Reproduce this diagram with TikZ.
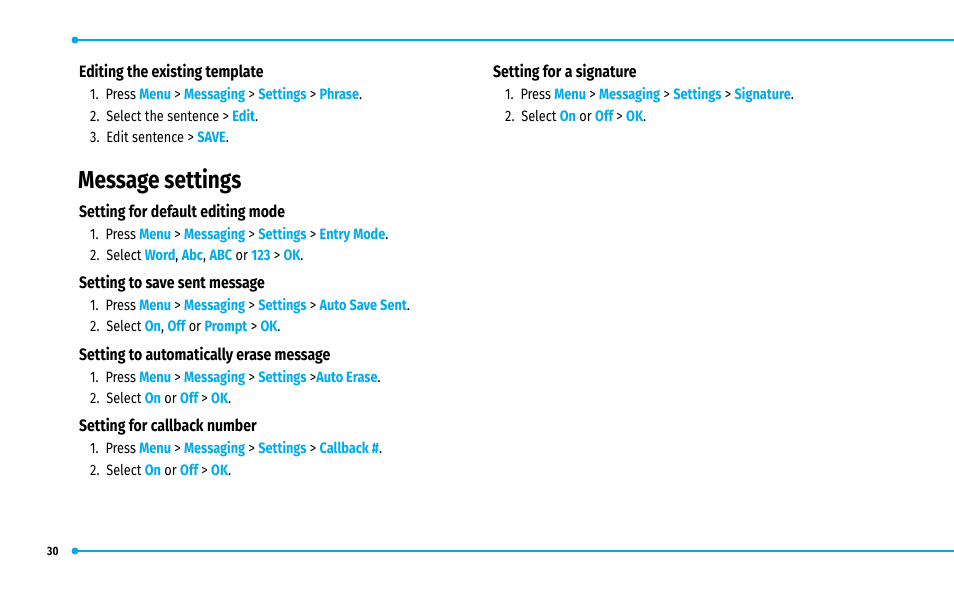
\documentclass[tikz,border=0pt]{standalone}
\usepackage{fontspec}
\setmainfont{Fira Sans}[FakeStretch=0.85]
\definecolor{cy}{RGB}{0,170,235}
\newcommand{\bl}[1]{\textcolor{cy}{\bfseries #1}}
\begin{document}
\begin{tikzpicture}[x=1pt,y=-1pt,
  hd/.style={anchor=west,inner sep=0pt,font=\fontsize{16.5}{17}\selectfont\bfseries},
  it/.style={anchor=west,inner sep=0pt,font=\fontsize{15}{16}\selectfont},
  ttl/.style={anchor=west,inner sep=0pt,font=\fontsize{24.5}{26}\selectfont\bfseries}]
\useasboundingbox (0,0) rectangle (954,592);
\draw[cy,line width=1.3pt] (75,40) -- (954,40);
\fill[cy] (75,40) circle (3.5);
\draw[cy,line width=1.3pt] (75,551) -- (954,551);
\fill[cy] (75,551) circle (3.5);
\node[anchor=west,inner sep=0pt,font=\fontsize{12}{13}\selectfont\bfseries] (pg) at (47,551) {30};
\node[hd] (h1) at (79,73) {Editing the existing template};
\node[it] (a1) at (90,95) {1.\ \ Press \bl{Menu} > \bl{Messaging} > \bl{Settings} > \bl{Phrase}.};
\node[it] (a2) at (90,116) {2.\ \ Select the sentence > \bl{Edit}.};
\node[it] (a3) at (90,137) {3.\ \ Edit sentence > \bl{SAVE}.};
\node[ttl] (t) at (78,181) {Message settings};
\node[hd] (h2) at (79,213) {Setting for default editing mode};
\node[it] (b1) at (90,235) {1.\ \ Press \bl{Menu} > \bl{Messaging} > \bl{Settings} > \bl{Entry Mode}.};
\node[it] (b2) at (90,256) {2.\ \ Select \bl{Word}, \bl{Abc}, \bl{ABC} or \bl{123} > \bl{OK}.};
\node[hd] (h3) at (79,284) {Setting to save sent message};
\node[it] (c1) at (90,306) {1.\ \ Press \bl{Menu} > \bl{Messaging} > \bl{Settings} > \bl{Auto Save Sent}.};
\node[it] (c2) at (90,327) {2.\ \ Select \bl{On}, \bl{Off} or \bl{Prompt} > \bl{OK}.};
\node[hd] (h4) at (79,356) {Setting to automatically erase message};
\node[it] (d1) at (90,378) {1.\ \ Press \bl{Menu} > \bl{Messaging} > \bl{Settings} >\bl{Auto Erase}.};
\node[it] (d2) at (90,398) {2.\ \ Select \bl{On} or \bl{Off} > \bl{OK}.};
\node[hd] (h5) at (79,427) {Setting for callback number};
\node[it] (e1) at (90,449) {1.\ \ Press \bl{Menu} > \bl{Messaging} > \bl{Settings} > \bl{Callback \#}.};
\node[it] (e2) at (90,470) {2.\ \ Select \bl{On} or \bl{Off} > \bl{OK}.};
\node[hd] (h6) at (493,73) {Setting for a signature};
\node[it] (f1) at (505,95) {1.\ \ Press \bl{Menu} > \bl{Messaging} > \bl{Settings} > \bl{Signature}.};
\node[it] (f2) at (505,116) {2.\ \ Select \bl{On} or \bl{Off} > \bl{OK}.};
\end{tikzpicture}
\end{document}
